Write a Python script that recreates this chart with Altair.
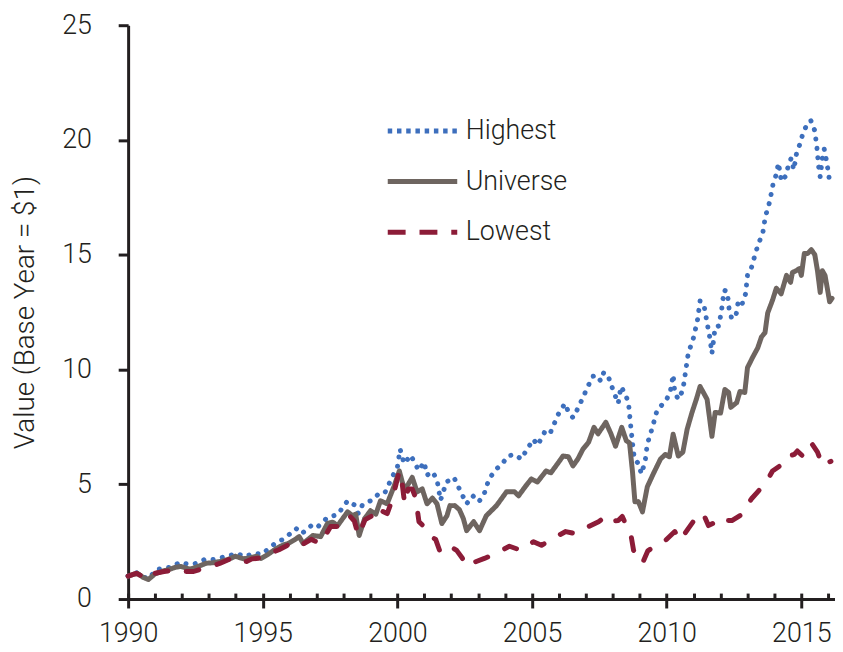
import altair as alt
import pandas as pd

# ---------------- data ----------------
univ_year = [1990.0, 1990.2, 1990.35, 1990.55, 1990.75, 1991.0, 1991.25, 1991.5, 1991.75, 1991.95,
             1992.3, 1992.6, 1992.9, 1993.15, 1993.43, 1993.7, 1993.98, 1994.3, 1994.55, 1994.76,
             1994.94, 1995.2, 1995.5, 1995.75, 1995.94, 1996.23, 1996.35, 1996.5, 1996.86, 1997.15,
             1997.4, 1997.6, 1997.78, 1998.15, 1998.33, 1998.45, 1998.58, 1998.78, 1999.0, 1999.2,
             1999.37, 1999.62, 1999.88, 2000.07, 2000.25, 2000.4, 2000.55, 2000.73, 2000.92, 2001.1,
             2001.3, 2001.47, 2001.65, 2001.84, 2001.95, 2002.13, 2002.3, 2002.45, 2002.57, 2002.83,
             2003.05, 2003.3, 2003.68, 2004.05, 2004.35, 2004.5, 2004.75, 2004.97, 2005.2, 2005.52,
             2005.7, 2005.95, 2006.15, 2006.35, 2006.52, 2006.7, 2006.89, 2007.1, 2007.3, 2007.45,
             2007.74, 2007.93, 2008.1, 2008.33, 2008.5, 2008.62, 2008.73, 2008.82, 2008.95, 2009.1,
             2009.28, 2009.5, 2009.77, 2009.95, 2010.1, 2010.24, 2010.43, 2010.6, 2010.76, 2010.94,
             2011.1, 2011.24, 2011.5, 2011.68, 2011.8, 2012.0, 2012.16, 2012.3, 2012.38, 2012.6,
             2012.72, 2012.9, 2013.0, 2013.2, 2013.38, 2013.52, 2013.65, 2013.75, 2013.93, 2014.07,
             2014.25, 2014.45, 2014.6, 2014.67, 2014.8, 2014.93, 2015.0, 2015.11, 2015.23, 2015.37,
             2015.5, 2015.6, 2015.7, 2015.78, 2015.88, 2016.0, 2016.05, 2016.14]
univ_value = [1.0, 1.08, 1.12, 0.95, 0.85, 1.1, 1.2, 1.28, 1.38, 1.42,
              1.3, 1.42, 1.56, 1.58, 1.64, 1.72, 1.86, 1.75, 1.8, 1.86,
              1.77, 1.95, 2.2, 2.35, 2.42, 2.62, 2.72, 2.42, 2.77, 2.72,
              3.29, 3.35, 3.2, 3.8, 3.63, 3.7, 2.77, 3.5, 3.85, 3.7,
              4.28, 4.15, 4.93, 5.58, 4.8, 5.0, 5.3, 4.67, 4.8, 4.15,
              4.4, 4.15, 3.29, 3.63, 4.07, 4.07, 3.9, 3.5, 2.98, 3.37,
              2.98, 3.63, 4.07, 4.67, 4.67, 4.5, 4.9, 5.23, 5.1, 5.58,
              5.5, 5.9, 6.23, 6.2, 5.8, 6.1, 6.53, 6.83, 7.48, 7.2,
              7.7, 7.2, 6.66, 7.48, 6.9, 6.8, 5.54, 4.24, 4.24, 3.8,
              4.89, 5.45, 6.1, 6.3, 6.2, 7.18, 6.23, 6.4, 7.4, 8.13,
              8.7, 9.26, 8.7, 7.09, 8.13, 8.1, 9.13, 9.0, 8.35, 8.56,
              9.04, 9.0, 10.08, 10.55, 10.94, 11.42, 11.6, 12.46, 13.02, 13.54,
              13.3, 14.1, 13.8, 14.23, 14.3, 14.4, 14.1, 15.05, 15.05, 15.22,
              15.0, 14.3, 13.36, 14.3, 14.1, 13.3, 12.95, 13.1]

high_year = [1990.0, 1990.3, 1990.55, 1990.75, 1991.07, 1991.4, 1991.7, 1991.9, 1992.3, 1992.55,
             1992.85, 1993.15, 1993.43, 1993.8, 1994.0, 1994.35, 1994.68, 1994.94, 1995.2, 1995.45,
             1995.75, 1995.94, 1996.24, 1996.45, 1996.8, 1997.0, 1997.4, 1997.78, 1998.15, 1998.4,
             1998.55, 1998.7, 1999.0, 1999.15, 1999.37, 1999.55, 1999.8, 2000.0, 2000.1, 2000.25,
             2000.5, 2000.65, 2000.8, 2000.99, 2001.1, 2001.3, 2001.47, 2001.6, 2001.82, 2002.1,
             2002.3, 2002.57, 2002.8, 2003.02, 2003.2, 2003.4, 2003.68, 2003.9, 2004.1, 2004.35,
             2004.6, 2004.8, 2005.05, 2005.2, 2005.35, 2005.52, 2005.7, 2005.97, 2006.22, 2006.37,
             2006.52, 2006.7, 2006.89, 2007.05, 2007.25, 2007.4, 2007.55, 2007.66, 2007.8, 2008.0,
             2008.2, 2008.3, 2008.45, 2008.58, 2008.65, 2008.72, 2008.8, 2008.95, 2009.06, 2009.2,
             2009.28, 2009.47, 2009.65, 2009.95, 2010.13, 2010.24, 2010.3, 2010.43, 2010.6, 2010.7,
             2010.8, 2011.0, 2011.15, 2011.24, 2011.4, 2011.52, 2011.6, 2011.68, 2011.8, 2011.94,
             2012.05, 2012.13, 2012.25, 2012.32, 2012.42, 2012.58, 2012.66, 2012.8, 2012.93, 2013.0,
             2013.15, 2013.33, 2013.45, 2013.57, 2013.67, 2013.78, 2013.85, 2013.95, 2014.07, 2014.15,
             2014.26, 2014.4, 2014.5, 2014.62, 2014.72, 2014.82, 2014.97, 2015.06, 2015.18, 2015.35,
             2015.5, 2015.58, 2015.64, 2015.7, 2015.78, 2015.85, 2015.95, 2016.0, 2016.05, 2016.14]
high_value = [1.0, 1.15, 0.98, 0.88, 1.3, 1.35, 1.43, 1.6, 1.5, 1.56,
              1.73, 1.72, 1.8, 1.9, 2.0, 1.85, 2.0, 1.95, 2.17, 2.42,
              2.6, 2.77, 3.07, 2.85, 3.2, 3.1, 3.55, 3.68, 4.28, 4.1,
              3.72, 4.1, 4.28, 4.4, 4.67, 4.67, 5.3, 5.75, 6.53, 5.9,
              6.27, 5.9, 5.6, 5.97, 5.4, 5.55, 5.2, 4.3, 5.1, 5.3,
              4.8, 4.15, 4.5, 4.24, 4.5, 5.23, 5.67, 5.9, 6.23, 6.3,
              6.1, 6.5, 6.96, 6.7, 7.0, 7.4, 7.3, 8.04, 8.52, 8.1,
              7.9, 8.3, 8.78, 9.2, 9.7, 9.75, 9.5, 9.86, 9.8, 9.13,
              8.52, 9.26, 8.96, 8.56, 7.7, 6.9, 6.1, 5.9, 5.45, 6.0,
              6.75, 7.48, 8.26, 8.6, 9.0, 9.77, 9.0, 8.7, 9.1, 9.9,
              10.7, 11.4, 12.2, 13.0, 12.7, 11.9, 11.4, 10.7, 11.85, 11.9,
              12.7, 13.45, 13.4, 12.6, 12.2, 12.4, 13.0, 12.85, 13.3, 14.1,
              14.45, 15.2, 15.6, 15.96, 16.7, 17.1, 17.47, 18.08, 18.5, 19.0,
              18.2, 18.4, 18.8, 19.2, 18.7, 19.4, 19.9, 20.3, 20.6, 20.85,
              20.4, 19.65, 18.86, 18.4, 19.2, 19.6, 19.0, 18.6, 18.2, 18.2]

low_year = [1990.0, 1990.3, 1990.55, 1990.75, 1990.9, 1991.33, 1991.65, 1991.9, 1992.1, 1992.43,
            1992.75, 1993.06, 1993.4, 1993.9, 1994.1, 1994.4, 1994.6, 1995.0, 1995.3, 1995.6,
            1995.85, 1996.0, 1996.3, 1996.5, 1996.8, 1997.15, 1997.52, 1997.85, 1998.22, 1998.4,
            1998.55, 1998.8, 1999.07, 1999.2, 1999.4, 1999.62, 1999.8, 2000.07, 2000.18, 2000.27,
            2000.4, 2000.55, 2000.68, 2000.8, 2000.95, 2001.17, 2001.42, 2001.58, 2001.9, 2002.2,
            2002.4, 2002.57, 2002.85, 2003.23, 2003.68, 2004.16, 2004.6, 2005.05, 2005.35, 2005.9,
            2006.25, 2006.6, 2006.9, 2007.1, 2007.47, 2007.77, 2007.95, 2008.2, 2008.35, 2008.5,
            2008.65, 2008.77, 2009.1, 2009.3, 2009.7, 2009.95, 2010.3, 2010.5, 2010.8, 2011.0,
            2011.35, 2011.55, 2011.73, 2011.9, 2012.05, 2012.42, 2012.78, 2013.15, 2013.38, 2013.7,
            2013.93, 2014.3, 2014.43, 2014.74, 2014.85, 2015.05, 2015.37, 2015.6, 2015.74, 2015.9,
            2016.03, 2016.1]
low_value = [1.0, 1.12, 0.98, 0.86, 1.1, 1.2, 1.25, 1.3, 1.2, 1.2,
             1.32, 1.42, 1.55, 1.8, 1.64, 1.64, 1.75, 1.8, 2.0, 2.15,
             2.3, 2.4, 2.55, 2.4, 2.6, 2.42, 3.16, 3.16, 3.63, 3.4,
             2.77, 3.46, 3.63, 4.0, 3.85, 3.72, 4.3, 5.58, 5.0, 4.15,
             4.8, 4.8, 4.4, 3.37, 3.2, 2.77, 2.6, 2.07, 2.34, 2.12,
             1.8, 1.43, 1.6, 1.77, 2.0, 2.3, 2.12, 2.5, 2.34, 2.72,
             2.94, 2.85, 3.0, 3.16, 3.37, 3.63, 3.4, 3.42, 3.6, 3.2,
             2.94, 2.12, 1.56, 2.1, 2.42, 2.55, 2.94, 2.55, 3.07, 3.4,
             3.74, 3.2, 3.3, 3.2, 3.42, 3.42, 3.68, 4.37, 4.67, 5.1,
             5.58, 5.88, 6.2, 6.3, 6.45, 6.23, 6.8, 6.4, 5.97, 6.15,
             5.97, 6.0]

series_names = ["Highest", "Universe", "Lowest"]
series_colors = ["#3d6fbd", "#6e6560", "#8c1c38"]
line_dashes = [[0.1, 9.4], [1, 0], [13, 19]]      # drawn with round caps
legend_dashes = [[4.5, 4.8], [1, 0], [18, 14]]   # legend symbols use butt caps
series_widths = [5.0, 5.0, 5.0]

x_major = [1990, 1995, 2000, 2005, 2010, 2015]
x_minor = list(range(1990, 2017))
y_ticks = [0, 5, 10, 15, 20, 25]

# ---------------- table ----------------
df = pd.concat([
    pd.DataFrame({"year": high_year, "value": high_value, "series": "Highest"}),
    pd.DataFrame({"year": univ_year, "value": univ_value, "series": "Universe"}),
    pd.DataFrame({"year": low_year, "value": low_value, "series": "Lowest"}),
], ignore_index=True)

FONT = "Roboto"
TXT = "#231f20"
W, H = 712, 578

x_scale = alt.Scale(domain=[1990, 2016.25], nice=False, zero=False)
y_scale = alt.Scale(domain=[0, 25], nice=False, zero=True)

lines = alt.Chart(df).mark_line(strokeCap="round", strokeJoin="round").encode(
    x=alt.X("year:Q", scale=x_scale,
            axis=alt.Axis(orient="bottom", values=x_major, format="d", title=None,
                          tickSize=9, labelPadding=13, labelFlush=False, grid=False)),
    y=alt.Y("value:Q", scale=y_scale,
            axis=alt.Axis(values=y_ticks, title="Value (Base Year = $1)",
                          tickSize=10, labelPadding=27, titlePadding=22, grid=False)),
    color=alt.Color("series:N", scale=alt.Scale(domain=series_names, range=series_colors), legend=None),
    strokeDash=alt.StrokeDash("series:N", scale=alt.Scale(domain=series_names, range=line_dashes), legend=None),
    strokeWidth=alt.StrokeWidth("series:N", scale=alt.Scale(domain=series_names, range=series_widths), legend=None),
    detail="series:N",
)

minor = alt.Chart(pd.DataFrame({"year": x_minor})).mark_point(opacity=0).encode(
    x=alt.X("year:Q", scale=x_scale,
            axis=alt.Axis(orient="top", offset=-H, values=x_minor, labels=False, domain=False,
                          tickSize=6, title=None, grid=False)),
)

leg = alt.Legend(
    title=None, orient="none", legendX=259, legendY=69,
    symbolType="stroke", symbolSize=4900,
    labelFont=FONT, labelFontSize=27, labelFontWeight=300, labelColor=TXT,
    labelOffset=6, rowPadding=0,
)

# legend-only layer (no rows, no positions): draws the key from the scale domains
legend_layer = alt.Chart(df).transform_filter("false").mark_line().encode(
    color=alt.Color("series:N", sort=series_names,
                    scale=alt.Scale(domain=series_names, range=series_colors), legend=leg),
    strokeDash=alt.StrokeDash("series:N", sort=series_names,
                              scale=alt.Scale(domain=series_names, range=legend_dashes), legend=leg),
    strokeWidth=alt.StrokeWidth("series:N", sort=series_names,
                                scale=alt.Scale(domain=series_names, range=series_widths), legend=leg),
)

chart = alt.layer(lines, minor, legend_layer).resolve_scale(
    color="independent", strokeDash="independent", strokeWidth="independent"
).resolve_axis(x="independent").properties(
    width=W, height=H,
    autosize="none",
    padding={"left": 121, "top": 15, "right": 0, "bottom": 50},
).configure_view(stroke=None).configure_axis(
    labelFont=FONT, labelFontSize=27, labelFontWeight=300, labelColor=TXT,
    titleFont=FONT, titleFontSize=28, titleFontWeight=300, titleColor=TXT,
    domainColor=TXT, domainWidth=3, tickColor=TXT, tickWidth=3,
)

chart.save("out.html", embed_options={"renderer": "svg", "actions": False})
